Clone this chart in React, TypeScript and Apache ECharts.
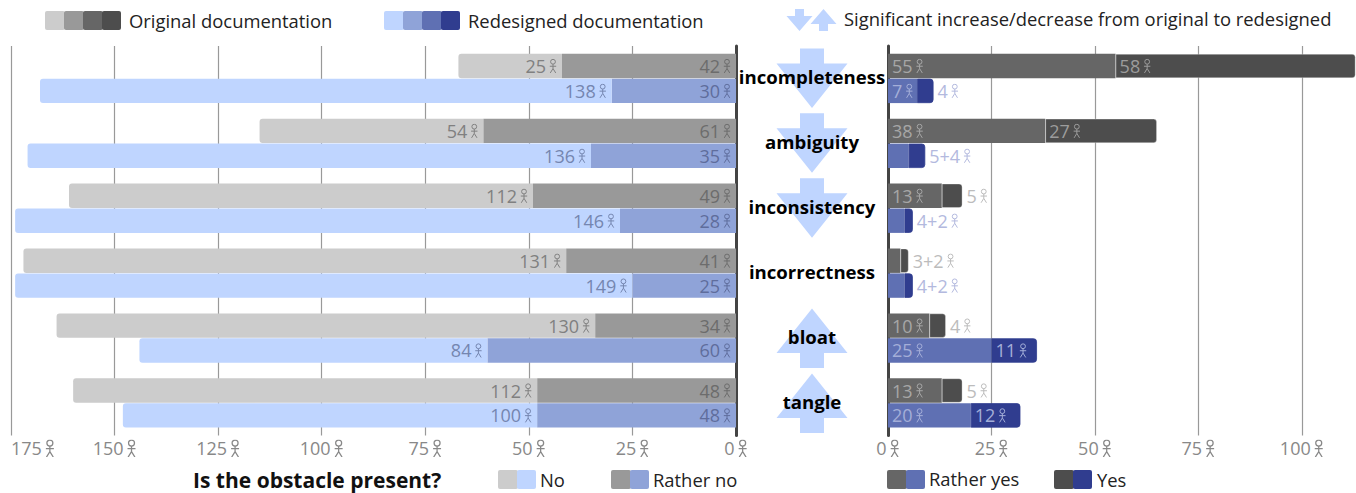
import React, { useEffect, useRef } from "react";
import * as echarts from "echarts";

const categories = ["incompleteness", "ambiguity", "inconsistency", "incorrectness", "bloat", "tangle"];
const arrowDirections = ["down", "down", "down", "", "up", "up"];

const origNo = [25, 54, 112, 131, 130, 112];
const origRatherNo = [42, 61, 49, 41, 34, 48];
const origRatherYes = [55, 38, 13, 3, 10, 13];
const origYes = [58, 27, 5, 2, 4, 5];

const redNo = [138, 136, 146, 149, 84, 100];
const redRatherNo = [30, 35, 28, 25, 60, 48];
const redRatherYes = [7, 5, 4, 4, 25, 20];
const redYes = [4, 4, 2, 2, 11, 12];

const leftTicks = { min: 0, max: 175, interval: 25 };
const rightTicks = { min: 0, max: 113.1, interval: 25 };

const GRAY = ["#cccccc", "#999999", "#666666", "#4d4d4d"];
const BLUE = ["#bfd5ff", "#8fa3d8", "#5f70b3", "#303d8f"];
const ARROW = "#bfd5ff";
const FONT = "'Open Sans', sans-serif";

const GRID_TOP = 46;
const GRID_H = 389.4;

const person = (color: string) =>
  "data:image/svg+xml;charset=utf-8," +
  encodeURIComponent(
    `<svg xmlns="http://www.w3.org/2000/svg" width="10" height="18" viewBox="0 0 10 18"><g fill="none" stroke="${color}" stroke-width="1.25"><circle cx="5" cy="3.7" r="3"/><path d="M5 6.7V12.2M1 9.3H9M5 12.2L1.6 17.7M5 12.2L8.4 17.7"/></g></svg>`
  );

const richFor = (color: string, big = false) => ({
  v: { color, fontSize: 18, fontFamily: FONT },
  g: { width: 3, height: 10 },
  p: { width: big ? 10 : 8, height: big ? 18 : 15, backgroundColor: { image: person(color) } },
});
const tag = (t: string | number) => `{v|${t}}{g|}{p|}`;

const barLabel = (color: string, position: string) => ({
  show: true,
  position,
  distance: position === "insideRight" ? 5 : 4,
  color,
  formatter: (p: any) => tag(p.value),
  rich: richFor(color),
});

const LEFT_GRAY = "#808080";
const LEFT_GRAY2 = "#6c6c6c";
const LEFT_BLUE = "#7586b0";
const LEFT_BLUE2 = "#5f6d9c";
const RIGHT_GRAY = "#a6a6a6";
const RIGHT_GRAY2 = "#9c9c9c";
const RIGHT_BLUE = "#a4aed8";
const OUT_GRAY = "#bcbcbc";
const OUT_BLUE = "#b3b9de";

const leftBar = (name: string, stack: string, data: number[], color: string, lab: string, outer: boolean) => ({
  type: "bar",
  name,
  stack,
  xAxisIndex: 0,
  yAxisIndex: 0,
  barWidth: 24.4,
  barGap: "2%",
  data,
  itemStyle: { color, borderRadius: outer ? [3, 0, 0, 3] : 0 },
  label: barLabel(lab, "insideRight"),
});

// Segment labels on the right panel: what a thin pair of bars cannot hold is noted beyond the bar.
const rightYes = (
  name: string,
  stack: string,
  data: number[],
  color: string,
  lab: string,
  out: string,
  notes: (string | null)[],
  edge: string
) => ({
  type: "bar",
  name,
  stack,
  xAxisIndex: 1,
  yAxisIndex: 1,
  barWidth: 24.4,
  barGap: "2%",
  itemStyle: { color, borderRadius: [0, 3, 3, 0], borderColor: edge, borderWidth: 0.8 },
  label: barLabel(lab, "insideLeft"),
  data: data.map((value, i) =>
    notes[i] === null
      ? value
      : {
          value,
          label: {
            show: true,
            position: "right",
            distance: 4,
            color: out,
            formatter: tag(notes[i] as string),
            rich: richFor(out),
          },
        }
  ),
});

const rightRather = (name: string, stack: string, data: number[], color: string, lab: string, hidden: boolean[]) => ({
  type: "bar",
  name,
  stack,
  xAxisIndex: 1,
  yAxisIndex: 1,
  barWidth: 24.4,
  barGap: "2%",
  itemStyle: { color },
  label: barLabel(lab, "insideLeft"),
  data: data.map((value, i) => (hidden[i] ? { value, label: { show: false } } : value)),
});

const axisLabel = (extra: any) => ({
  color: "#888888",
  margin: 4,
  formatter: (v: number) => tag(v),
  rich: richFor("#888888", true),
  ...extra,
});

const swatchRow = (x: number, y: number, colors: string[]) =>
  colors.map((fill, i) => ({
    type: "rect",
    shape: { x: x + i * 19, y, width: i === colors.length - 1 ? 19 : 20, height: 19, r: 2 },
    style: { fill },
  }));

const legendText = (x: number, y: number, text: string, fontSize = 18.4, fontWeight: any = "normal") => ({
  type: "text",
  x,
  y,
  style: { text, fontSize, fontWeight, fontFamily: FONT, fill: fontWeight === "normal" ? "#222222" : "#111111", verticalAlign: "middle" },
});

const smallArrow = (cx: number, dir: number) => {
  const y = 20;
  const pts = (d: number) => [
    [cx - 4.5, y - 11 * d],
    [cx + 4.5, y - 11 * d],
    [cx + 4.5, y - 4 * d],
    [cx + 13, y - 4 * d],
    [cx, y + 11 * d],
    [cx - 13, y - 4 * d],
    [cx - 4.5, y - 4 * d],
  ];
  return { type: "polygon", shape: { points: pts(dir) }, style: { fill: ARROW } };
};

const renderMiddle = (params: any, api: any) => {
  const i = params.dataIndex;
  const [cx, cy] = api.coord([0.5, i]);
  const dir = arrowDirections[i];
  const children: any[] = [];
  if (dir) {
    const d = dir === "down" ? 1 : -1;
    const p = (dx: number, dy: number) => [cx + dx, cy + dy * d];
    children.push({
      type: "polygon",
      shape: {
        points: [p(-12, -30), p(12, -30), p(12, -15), p(35.5, -15), p(0, 29.5), p(-35.5, -15), p(-12, -15)],
      },
      style: { fill: ARROW },
    });
  }
  children.push({
    type: "text",
    style: {
      text: categories[i],
      x: cx,
      y: cy - 1.5,
      align: "center",
      verticalAlign: "middle",
      fontSize: 18.6,
      fontWeight: "bold",
      fontFamily: FONT,
      fill: "#000000",
    },
  });
  return { type: "group", children };
};

export default function App() {
  const ref = useRef<HTMLDivElement>(null);
  useEffect(() => {
    const chart = echarts.init(ref.current!, null, { renderer: "svg" });
    const dark = { show: true, onZero: true, lineStyle: { color: "#444444", width: 3 } };
    const split = { show: true, showMaxLine: false, lineStyle: { color: "#999999", width: 1.2 } };
    chart.setOption({
      animation: false,
      textStyle: { fontFamily: FONT },
      grid: [
        { left: 11, width: 725, top: GRID_TOP, height: GRID_H },
        { left: 888, width: 468, top: GRID_TOP, height: GRID_H },
        { left: 738, width: 148, top: GRID_TOP, height: GRID_H },
      ],
      xAxis: [
        {
          type: "value",
          gridIndex: 0,
          inverse: true,
          ...leftTicks,
          axisLine: { show: false },
          axisTick: { show: false },
          splitLine: { show: true, lineStyle: split.lineStyle },
          axisLabel: axisLabel({ alignMaxLabel: "left" }),
        },
        {
          type: "value",
          gridIndex: 1,
          ...rightTicks,
          axisLine: { show: false },
          axisTick: { show: false },
          splitLine: split,
          axisLabel: axisLabel({ showMaxLabel: false }),
        },
        { type: "value", gridIndex: 2, min: 0, max: 1, show: false },
      ],
      yAxis: [
        { type: "category", gridIndex: 0, inverse: true, data: categories, axisLine: dark, axisTick: { show: false }, axisLabel: { show: false } },
        { type: "category", gridIndex: 1, inverse: true, data: categories, axisLine: dark, axisTick: { show: false }, axisLabel: { show: false } },
        { type: "category", gridIndex: 2, inverse: true, data: categories, show: false },
      ],
      series: [
        leftBar("Original Rather no", "o", origRatherNo, GRAY[1], LEFT_GRAY2, false),
        leftBar("Original No", "o", origNo, GRAY[0], LEFT_GRAY, true),
        leftBar("Redesigned Rather no", "r", redRatherNo, BLUE[1], LEFT_BLUE2, false),
        leftBar("Redesigned No", "r", redNo, BLUE[0], LEFT_BLUE, true),
        rightRather("Original Rather yes", "o2", origRatherYes, GRAY[2], RIGHT_GRAY, [false, false, false, true, false, false]),
        rightYes("Original Yes", "o2", origYes, GRAY[3], RIGHT_GRAY2, OUT_GRAY, [null, null, "5", "3+2", "4", "5"], "rgba(255,255,255,0.4)"),
        rightRather("Redesigned Rather yes", "r2", redRatherYes, BLUE[2], RIGHT_BLUE, [false, true, true, true, false, false]),
        rightYes("Redesigned Yes", "r2", redYes, BLUE[3], RIGHT_BLUE, OUT_BLUE, ["4", "5+4", "4+2", "4+2", null, null], BLUE[3]),
        {
          type: "custom",
          xAxisIndex: 2,
          yAxisIndex: 2,
          renderItem: renderMiddle,
          data: categories.map((c) => [0.5, c]),
          encode: { x: 0, y: 1 },
          z: 1,
        },
      ],
      graphic: [
        ...swatchRow(45, 11, GRAY),
        legendText(129, 20, "Original documentation"),
        ...swatchRow(384, 11, BLUE),
        legendText(468, 20, "Redesigned documentation"),
        smallArrow(799.5, 1),
        smallArrow(823.5, -1),
        legendText(844, 18, "Significant increase/decrease from original to redesigned"),
        legendText(193, 480, "Is the obstacle present?", 21, "bold"),
        ...swatchRow(498, 470, [GRAY[0], BLUE[0]]),
        legendText(540, 479, "No"),
        ...swatchRow(611, 470, [GRAY[1], BLUE[1]]),
        legendText(653, 479, "Rather no"),
        ...swatchRow(887, 470, [GRAY[2], BLUE[2]]),
        legendText(929, 478, "Rather yes"),
        ...swatchRow(1054, 470, [GRAY[3], BLUE[3]]),
        legendText(1097, 479, "Yes"),
      ],
    });
    return () => chart.dispose();
  }, []);
  return <div ref={ref} style={{ position: "absolute", left: 0, top: 0, width: 1356, height: 493 }} />;
}
